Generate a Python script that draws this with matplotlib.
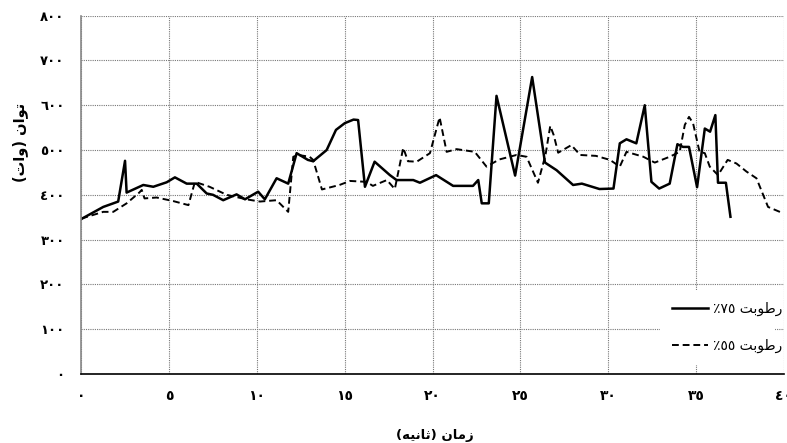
import matplotlib
matplotlib.use("Agg")
import matplotlib.pyplot as plt
from matplotlib.lines import Line2D

# ---- data ----
x75 = [0, 1.25, 1.82, 2.1, 2.49, 2.58, 3.53, 4.1, 4.86, 5.33, 6.0, 6.57, 7.14, 7.5, 8.08, 8.84,
       9.32, 10.07, 10.45, 11.12, 11.78, 12.26, 12.9, 13.2, 13.97, 14.5, 15.0, 15.5, 15.76, 16.15,
       16.7, 17.57, 17.95, 18.9, 19.28, 20.2, 21.17, 22.3, 22.6, 22.8, 23.2, 23.64, 24.7, 25.67,
       26.4, 27.06, 28.0, 28.5, 29.5, 30.3, 30.66, 31.04, 31.6, 32.08, 32.46, 32.9, 33.5, 33.94,
       34.26, 34.6, 35.06, 35.5, 35.8, 36.1, 36.25, 36.7, 36.96]
y75 = [346, 373, 381, 385, 476, 405, 422, 418, 428, 439, 425, 425, 403, 400, 388, 401,
       390, 407, 390, 437, 425, 493, 478, 475, 500, 545, 560, 568, 567, 418,
       474, 444, 433, 433, 427, 444, 420, 420, 433, 381, 381, 621, 443, 663,
       472, 455, 422, 425, 413, 414, 515, 524, 515, 600, 429, 414, 425, 513,
       507, 507, 417, 548, 541, 578, 427, 427, 351]

x55 = [0, 1.25, 1.82, 2.58, 3.3, 3.44, 3.6, 4.29, 5.24, 6.1, 6.47, 7.3, 8.28, 9.4, 10.17,
       11.12, 11.78, 12.07, 12.35, 13.0, 13.2, 13.7, 14.7, 15.3, 16.24, 16.6, 17.4, 17.85, 18.33,
       18.6, 19.1, 19.85, 20.4, 20.8, 21.37, 22.4, 23.07, 23.8, 24.78, 25.35, 26.0, 26.43, 26.7,
       26.9, 27.15, 27.9, 28.4, 29.3, 30.1, 30.66, 31.04, 32.0, 32.65, 33.5, 34.07, 34.36, 34.6,
       34.83, 35.2, 35.5, 35.78, 36.25, 36.8, 37.3, 37.87, 38.44, 39.1, 39.95]
y55 = [347, 362, 362, 381, 405, 411, 392, 394, 386, 377, 429, 418, 400, 390, 385,
       388, 362, 485, 489, 485, 478, 412, 422, 431, 429, 420, 433, 413, 505,
       475, 474, 493, 573, 496, 502, 496, 463, 479, 489, 485, 427, 489, 554,
       533, 494, 511, 489, 487, 478, 463, 496, 485, 472, 485, 496, 556, 574,
       560, 496, 493, 463, 444, 478, 470, 452, 437, 373, 359]

xticks = [0, 5, 10, 15, 20, 25, 30, 35, 40]
xtick_labels = ["٠", "٥", "١٠", "١٥", "٢٠", "٢٥", "٣٠", "٣٥", "٤٠"]
yticks = [0, 100, 200, 300, 400, 500, 600, 700, 800]
ytick_labels = ["٠", "١٠٠", "٢٠٠", "٣٠٠", "٤٠٠", "٥٠٠", "٦٠٠", "٧٠٠", "٨٠٠"]

# pre-shaped (visual order) Persian labels
label75 = "\u066A\u0667\u0665 \uFE96\uFE91\uFEEE\uFEC3\uFEAD"   # رطوبت ۷۵٪
label55 = "\u066A\u0665\u0665 \uFE96\uFE91\uFEEE\uFEC3\uFEAD"   # رطوبت ۵۵٪
xlabel = "(\uFEEA\uFEF4\uFEE7\uFE8E\uFE9B) \uFEE5\uFE8E\uFEE3\uFEAF"  # زمان (ثانیه)
ylabel = "(\uFE95\uFE8D\uFEED) \uFEE5\uFE8D\uFEEE\uFE97"              # توان (وات)

plt.rcParams['font.family'] = ['DejaVu Sans']

fig = plt.figure(figsize=(7.87, 4.43), dpi=100)
ax = fig.add_axes([0.1033, 0.1558, 0.8927, 0.8088])

ax.plot(x75, y75, color='black', lw=1.8, solid_joinstyle='round')
ax.plot(x55, y55, color='black', lw=1.4, linestyle=(0, (3.5, 2)))

ax.set_xlim(0, 40)
ax.set_ylim(0, 800)
ax.set_xticks(xticks)
ax.set_xticklabels(xtick_labels, fontweight='bold', fontsize=10)
ax.set_yticks(yticks)
ax.set_yticklabels(ytick_labels, fontweight='bold', fontsize=9.5)
ax.tick_params(axis='x', length=0, pad=11)
ax.tick_params(axis='y', length=0, pad=12)

ax.grid(True, color='#777777', linestyle=(0, (1, 1)), linewidth=0.8)
ax.set_axisbelow(True)
for s in ['top', 'right']:
    ax.spines[s].set_visible(False)
ax.spines['left'].set_color('#888888')
ax.spines['left'].set_linewidth(1.2)
ax.spines['bottom'].set_color('black')
ax.spines['bottom'].set_linewidth(1.2)

fig.text(435 / 787, 1 - 435 / 443, xlabel, ha='center', va='center', fontsize=9.5, fontweight='bold')
fig.text(20 / 787, 1 - 142 / 443, ylabel, ha='center', va='center', rotation=90, fontsize=10.5, fontweight='bold')

handles = [Line2D([], [], color='black', lw=1.8),
           Line2D([], [], color='black', lw=1.4, linestyle=(0, (3.5, 2)))]
leg = ax.legend(handles, [label75, label55], loc='lower left',
                bbox_to_anchor=((653 - 81.3) / (784 - 81.3), 0.005, (782 - 653) / (784 - 81.3), (374 - 279) / 358.3),
                mode='expand', frameon=True, fancybox=False, edgecolor='none', facecolor='white', framealpha=1,
                fontsize=10, handlelength=2.6, handletextpad=0.3, labelspacing=1.6, borderpad=0.9)
leg.get_frame().set_linewidth(0)

fig.savefig('out.png', dpi=100, facecolor='white')
